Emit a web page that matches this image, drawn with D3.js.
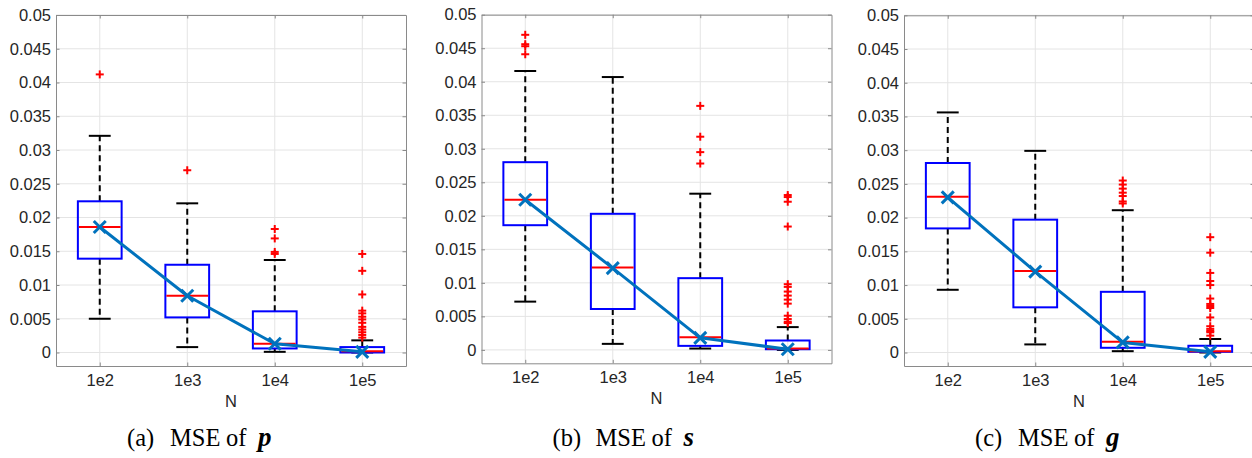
<!DOCTYPE html>
<html>
<head>
<meta charset="utf-8">
<script src="https://cdn.jsdelivr.net/npm/d3@7"></script>
<style>
  html, body { margin: 0; padding: 0; background: #fff; }
  svg { display: block; }
</style>
</head>
<body>
<svg id="chart" width="1252" height="458"></svg>
<script>
// ---------- data ----------
const categories = ["1e2", "1e3", "1e4", "1e5"];
const yTickValues = [0, 0.005, 0.01, 0.015, 0.02, 0.025, 0.03, 0.035, 0.04, 0.045, 0.05];
const yTickLabels = ["0", "0.005", "0.01", "0.015", "0.02", "0.025", "0.03", "0.035", "0.04", "0.045", "0.05"];
const xAxisTitle = "N";

// (a) MSE of p
const pLow  = [0.0050, 0.0008, 0.0001, 0.0000];
const pQ1   = [0.0139, 0.0052, 0.0006, 0.0000];
const pMed  = [0.0186, 0.0084, 0.0013, 0.0002];
const pQ3   = [0.0224, 0.0130, 0.0061, 0.0008];
const pHigh = [0.0321, 0.0221, 0.0137, 0.0018];
const pMean = [0.0186, 0.0084, 0.0013, 0.0001];
const pOut  = [[0.0412], [0.0270], [0.0183, 0.0169, 0.0149, 0.0146],
               [0.0146, 0.0121, 0.0086, 0.0062, 0.0058, 0.0053, 0.0049, 0.0044, 0.0038, 0.0034, 0.0030, 0.0026, 0.0022]];

// (b) MSE of s
const sLow  = [0.0072, 0.0009, 0.0002, 0.0000];
const sQ1   = [0.0186, 0.0061, 0.0006, 0.0001];
const sMed  = [0.0224, 0.0123, 0.0019, 0.0002];
const sQ3   = [0.0280, 0.0203, 0.0107, 0.0014];
const sHigh = [0.0416, 0.0407, 0.0233, 0.0034];
const sMean = [0.0224, 0.0122, 0.0018, 0.0001];
const sOut  = [[0.0470, 0.0456, 0.0453, 0.0441], [], [0.0364, 0.0318, 0.0295, 0.0278],
               [0.0231, 0.0228, 0.0221, 0.0184, 0.0098, 0.0094, 0.0087, 0.0081, 0.0075, 0.0069, 0.0051, 0.0046, 0.0042, 0.0040]];

// (c) MSE of g
const gLow  = [0.0093, 0.0012, 0.0002, 0.0000];
const gQ1   = [0.0184, 0.0067, 0.0007, 0.0001];
const gMed  = [0.0231, 0.0121, 0.0016, 0.0002];
const gQ3   = [0.0281, 0.0197, 0.0090, 0.0010];
const gHigh = [0.0356, 0.0299, 0.0211, 0.0020];
const gMean = [0.0230, 0.0120, 0.0015, 0.0001];
const gOut  = [[], [], [0.0255, 0.0249, 0.0243, 0.0237, 0.0232, 0.0224, 0.0221],
               [0.0171, 0.0148, 0.0118, 0.0106, 0.0100, 0.0080, 0.0072, 0.0069, 0.0066, 0.0052, 0.0039, 0.0035, 0.0032, 0.0030, 0.0025]];

const captionLabels = ["(a)", "(b)", "(c)"];
const captionWords1 = ["MSE", "MSE", "MSE"];
const captionWords2 = ["of", "of", "of"];
const captionVars = ["p", "s", "g"];

// ---------- layout ----------
const panels = [
  { left: 56,  top: 15,   bottom: 366,   low: pLow, q1: pQ1, med: pMed, q3: pQ3, high: pHigh, mean: pMean, out: pOut },
  { left: 481.5, top: 14.7, bottom: 363.3, low: sLow, q1: sQ1, med: sMed, q3: sQ3, high: sHigh, mean: sMean, out: sOut },
  { left: 904, top: 15.3, bottom: 366,   low: gLow, q1: gQ1, med: gMed, q3: gQ3, high: gHigh, mean: gMean, out: gOut }
];
const plotW = 350;
const yDomain = [-0.002, 0.05];
const tickFont = "'Liberation Sans', Arial, sans-serif";
const serifFont = "'Liberation Serif', 'Times New Roman', serif";

const svg = d3.select("#chart");

panels.forEach((P, pi) => {
  const x = d3.scaleLinear().domain([0.5, 4.5]).range([P.left, P.left + plotW]);
  const y = d3.scaleLinear().domain(yDomain).range([P.bottom, P.top]);
  const xc = i => x(i + 1);
  const boxHalf = (x(1.25) - x(1));   // box width 0.5
  const capHalf = (x(1.125) - x(1));  // cap width 0.25

  const g = svg.append("g");

  // grid
  g.append("g").selectAll("line").data(yTickValues).join("line")
    .attr("x1", P.left).attr("x2", P.left + plotW)
    .attr("y1", d => y(d)).attr("y2", d => y(d))
    .attr("stroke", "#e4e4e4").attr("stroke-width", 1);
  g.append("g").selectAll("line").data(categories).join("line")
    .attr("x1", (d, i) => xc(i)).attr("x2", (d, i) => xc(i))
    .attr("y1", P.top).attr("y2", P.bottom)
    .attr("stroke", "#e4e4e4").attr("stroke-width", 1);

  // axes with inward ticks
  const yAxisL = d3.axisLeft(y).tickValues(yTickValues).tickFormat((d, i) => yTickLabels[i]).tickSizeInner(-3.5).tickSizeOuter(0).tickPadding(5);
  const gyl = g.append("g").attr("transform", `translate(${P.left},0)`).call(yAxisL);
  const yAxisR = d3.axisRight(y).tickValues(yTickValues).tickFormat("").tickSizeInner(-3.5).tickSizeOuter(0);
  const gyr = g.append("g").attr("transform", `translate(${P.left + plotW},0)`).call(yAxisR);
  const xAxisB = d3.axisBottom(x).tickValues([1, 2, 3, 4]).tickFormat((d, i) => categories[i]).tickSizeInner(-3.5).tickSizeOuter(0).tickPadding(8);
  const gxb = g.append("g").attr("transform", `translate(0,${P.bottom})`).call(xAxisB);
  const xAxisT = d3.axisTop(x).tickValues([1, 2, 3, 4]).tickFormat("").tickSizeInner(-3.5).tickSizeOuter(0);
  const gxt = g.append("g").attr("transform", `translate(0,${P.top})`).call(xAxisT);
  [gyl, gyr, gxb, gxt].forEach(a => {
    a.select(".domain").attr("stroke", "#8a8a8a").attr("stroke-width", 1);
    a.selectAll(".tick line").attr("stroke", "#8a8a8a");
    a.selectAll(".tick text").attr("fill", "#262626").style("font-family", tickFont).style("font-size", "16.5px");
  });

  // x axis title
  g.append("text").attr("x", P.left + plotW / 2).attr("y", P.bottom + 41)
    .attr("text-anchor", "middle").attr("fill", "#262626")
    .style("font-family", tickFont).style("font-size", "16.5px").text(xAxisTitle);

  // whiskers (dashed)
  const idx = d3.range(categories.length);
  g.append("g").selectAll("line").data(idx).join("line")
    .attr("x1", i => xc(i)).attr("x2", i => xc(i))
    .attr("y1", i => y(P.q3[i])).attr("y2", i => y(P.high[i]))
    .attr("stroke", "#000").attr("stroke-width", 2).attr("stroke-dasharray", "6,4");
  g.append("g").selectAll("line").data(idx).join("line")
    .attr("x1", i => xc(i)).attr("x2", i => xc(i))
    .attr("y1", i => y(P.q1[i])).attr("y2", i => y(P.low[i]))
    .attr("stroke", "#000").attr("stroke-width", 2).attr("stroke-dasharray", "6,4");
  // caps
  g.append("g").selectAll("line").data(idx).join("line")
    .attr("x1", i => xc(i) - capHalf).attr("x2", i => xc(i) + capHalf)
    .attr("y1", i => y(P.high[i])).attr("y2", i => y(P.high[i]))
    .attr("stroke", "#000").attr("stroke-width", 2);
  g.append("g").selectAll("line").data(idx).join("line")
    .attr("x1", i => xc(i) - capHalf).attr("x2", i => xc(i) + capHalf)
    .attr("y1", i => y(P.low[i])).attr("y2", i => y(P.low[i]))
    .attr("stroke", "#000").attr("stroke-width", 2);
  // boxes
  g.append("g").selectAll("rect").data(idx).join("rect")
    .attr("x", i => xc(i) - boxHalf).attr("width", 2 * boxHalf)
    .attr("y", i => y(P.q3[i])).attr("height", i => Math.max(1, y(P.q1[i]) - y(P.q3[i])))
    .attr("fill", "none").attr("stroke", "#0000ff").attr("stroke-width", 2);
  // medians
  g.append("g").selectAll("line").data(idx).join("line")
    .attr("x1", i => xc(i) - boxHalf + 1).attr("x2", i => xc(i) + boxHalf - 1)
    .attr("y1", i => y(P.med[i])).attr("y2", i => y(P.med[i]))
    .attr("stroke", "#ff0000").attr("stroke-width", 2);
  // outliers
  const outPts = [];
  P.out.forEach((arr, i) => arr.forEach(v => outPts.push({ i, v })));
  const plus = 4;
  const og = g.append("g").selectAll("g").data(outPts).join("g")
    .attr("transform", d => `translate(${xc(d.i)},${y(d.v)})`);
  og.append("line").attr("x1", -plus).attr("x2", plus).attr("y1", 0).attr("y2", 0).attr("stroke", "#ff0000").attr("stroke-width", 2);
  og.append("line").attr("x1", 0).attr("x2", 0).attr("y1", -plus).attr("y2", plus).attr("stroke", "#ff0000").attr("stroke-width", 2);

  // mean line
  const line = d3.line().x((d, i) => xc(i)).y(d => y(d));
  g.append("path").datum(P.mean).attr("d", line)
    .attr("fill", "none").attr("stroke", "#0072BD").attr("stroke-width", 3).attr("stroke-linejoin", "round");
  const xm = 6;
  const mg = g.append("g").selectAll("g").data(P.mean).join("g")
    .attr("transform", (d, i) => `translate(${xc(i)},${y(d)})`);
  mg.append("line").attr("x1", -xm).attr("x2", xm).attr("y1", -xm).attr("y2", xm).attr("stroke", "#0072BD").attr("stroke-width", 3);
  mg.append("line").attr("x1", -xm).attr("x2", xm).attr("y1", xm).attr("y2", -xm).attr("stroke", "#0072BD").attr("stroke-width", 3);

  // caption (pieces placed like the typeset subcaption)
  const capY = 446;
  const capStyle = t => t.attr("fill", "#000").style("font-family", serifFont).style("font-size", "24.5px");
  capStyle(svg.append("text").attr("x", P.left + 71).attr("y", capY).text(captionLabels[pi]));
  capStyle(svg.append("text").attr("x", P.left + 114).attr("y", capY).text(captionWords1[pi]));
  capStyle(svg.append("text").attr("x", P.left + 170).attr("y", capY).text(captionWords2[pi]));
  capStyle(svg.append("text").attr("x", P.left + 202).attr("y", capY).text(captionVars[pi]))
    .style("font-weight", "bold").style("font-style", "italic").style("font-size", "27px");
});
</script>
</body>
</html>
